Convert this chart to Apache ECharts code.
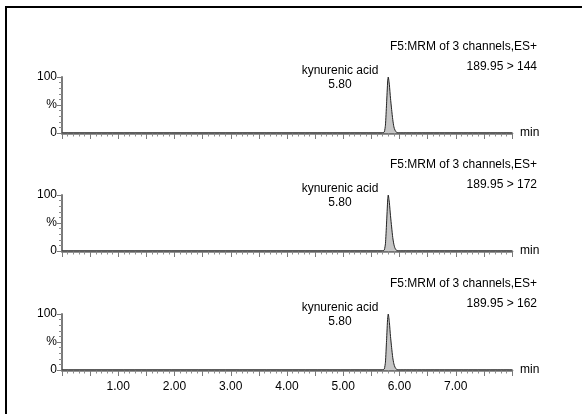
<!DOCTYPE html>
<html>
<head>
<meta charset="utf-8">
<script src="https://cdn.jsdelivr.net/npm/echarts@6/dist/echarts.min.js"></script>
<style>
html,body{margin:0;padding:0;background:#fff;}
#c{width:582px;height:414px;}
</style>
</head>
<body>
<div id="c"></div>
<script>
// retention times (min) and relative intensities (%) for each channel
var times = [0, 5.70, 5.73, 5.75, 5.77, 5.79, 5.80, 5.82, 5.84, 5.86, 5.88, 5.90, 5.92, 5.95, 5.98, 8.0];
var ch144 = [0, 0, 2, 14, 52, 93, 100, 86, 62, 42, 24, 11, 5, 1, 0, 0];
var ch172 = [0, 0, 2, 13, 50, 91, 100, 86, 63, 43, 24, 12, 5, 1, 0, 0];
var ch162 = [0, 0, 2, 14, 53, 94, 100, 85, 60, 40, 22, 11, 5, 1, 0, 0];
var channelNames = ['189.95 > 144', '189.95 > 172', '189.95 > 162'];
var functionLabel = 'F5:MRM of 3 channels,ES+';
var peakName = 'kynurenic acid';
var peakRT = '5.80';
var xTickLabels = ['1.00', '2.00', '3.00', '4.00', '5.00', '6.00', '7.00'];
var yTickLabels = {0: '0', 50: '%', 100: '100'};

var channels = [ch144, ch172, ch162];
var gridTops = [77, 195, 314];
var gridH = 56;
var font = 'Liberation Sans, Arial, Helvetica, sans-serif';

var chart = echarts.init(document.getElementById('c'), null, {renderer: 'canvas'});
var grids = [], xAxes = [], yAxes = [], series = [], graphics = [];

function txt(s, x, y, align) {
  return {type: 'text', x: x, y: y, silent: true,
    style: {text: s, font: '12px ' + font, fill: '#000', textAlign: align, textVerticalAlign: 'middle'}};
}

channels.forEach(function (vals, i) {
  grids.push({left: 62, right: 70, top: gridTops[i], height: gridH, containLabel: false});
  var last = i === channels.length - 1;
  xAxes.push({
    type: 'value', gridIndex: i, min: 0, max: 8, interval: 0.5,
    name: 'min', nameLocation: 'end', nameGap: 8,
    nameTextStyle: {fontFamily: font, fontSize: 12, color: '#000', verticalAlign: 'middle', padding: [4, 0, 0, 0]},
    axisLine: {show: true, onZero: false, lineStyle: {color: '#737373', width: 2.5}},
    axisTick: {show: true, length: 6, lineStyle: {color: '#7a7a7a', width: 1}},
    minorTick: {show: true, splitNumber: 5, length: 3.5, lineStyle: {color: '#8a8a8a', width: 1}},
    splitLine: {show: false},
    axisLabel: {
      show: last, fontFamily: font, fontSize: 12, color: '#000', margin: 11,
      formatter: function (v) {
        var s = v.toFixed(2);
        return xTickLabels.indexOf(s) >= 0 ? s : '';
      }
    }
  });
  yAxes.push({
    type: 'value', gridIndex: i, min: 0, max: 100, interval: 50,
    axisLine: {show: true, lineStyle: {color: '#7a7a7a', width: 2}},
    axisTick: {show: true, length: 5, lineStyle: {color: '#7a7a7a', width: 1}},
    minorTick: {show: true, splitNumber: 5, length: 3, lineStyle: {color: '#8a8a8a', width: 1}},
    splitLine: {show: false},
    axisLabel: {
      fontFamily: font, fontSize: 12, color: '#000', margin: 5,
      formatter: function (v) { return yTickLabels[v] !== undefined ? yTickLabels[v] : ''; }
    }
  });
  series.push({
    type: 'line', xAxisIndex: i, yAxisIndex: i,
    data: times.map(function (t, k) { return [t, vals[k]]; }),
    symbol: 'none', smooth: 0.2,
    lineStyle: {color: '#222', width: 1},
    areaStyle: {color: '#c6c6c6', opacity: 1},
    z: 1
  });
  var t0 = gridTops[i];
  graphics.push(txt(functionLabel, 537, t0 - 30, 'right'));
  graphics.push(txt(channelNames[i], 537, t0 - 10, 'right'));
  graphics.push(txt(peakName, 340, t0 - 6, 'center'));
  graphics.push(txt(peakRT, 340, t0 + 8, 'center'));
});

graphics.push({type: 'line', shape: {x1: 6, y1: 6, x2: 6, y2: 414}, style: {stroke: '#000', lineWidth: 2}});
graphics.push({type: 'line', shape: {x1: 5, y1: 7, x2: 582, y2: 7}, style: {stroke: '#000', lineWidth: 2}});

chart.setOption({
  animation: false,
  backgroundColor: '#fff',
  grid: grids,
  xAxis: xAxes,
  yAxis: yAxes,
  series: series,
  graphic: graphics
});
</script>
</body>
</html>
